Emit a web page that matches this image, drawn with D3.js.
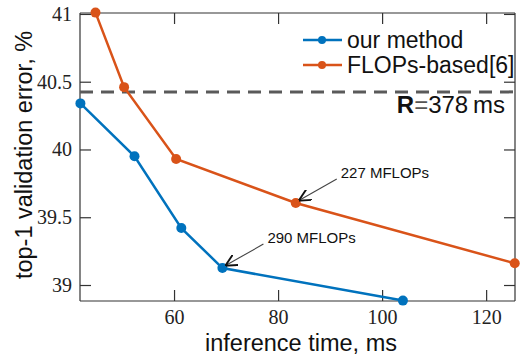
<!DOCTYPE html>
<html><head><meta charset="utf-8">
<script src="https://cdn.jsdelivr.net/npm/d3@7"></script>
<style>
html,body{margin:0;padding:0;background:#fff;}
svg{display:block;}
</style></head>
<body>
<svg id="c" width="522" height="359"></svg>
<script>
// ---- data ----
const ourTime = [42.0, 52.4, 61.4, 69.3, 104.0];
const ourErr  = [40.34, 39.95, 39.42, 39.125, 38.885];
const flopsTime = [44.9, 50.4, 60.4, 83.4, 125.5];
const flopsErr  = [41.01, 40.46, 39.93, 39.605, 39.16];
const xTicks = [60, 80, 100, 120];
const yTicks = [39, 39.5, 40, 40.5, 41];
const budgetErr = 40.425;
const seriesNames = ["our method", "FLOPs-based[6]"];
const annotations = [
  {label: "227 MFLOPs", series: 1, index: 3},
  {label: "290 MFLOPs", series: 0, index: 3}
];

const colors = ["#0072BD", "#D95319"];
const svg = d3.select("#c");
const L = 80, R = 515, T = 13, B = 301;
const x = d3.scaleLinear().domain([41.92, 125.55]).range([L, R]);
const y = d3.scaleLinear().domain([38.882, 41.007]).range([B, T]);
const axisColor = "#333";
const tickFont = "'Liberation Serif', 'Times New Roman', serif";
const sansFont = "'Liberation Sans', Arial, Helvetica, sans-serif";

// axes (inward ticks)
const tl = 11;
const gB = svg.append("g").attr("transform", `translate(0,${B})`)
  .call(d3.axisBottom(x).tickValues(xTicks).tickSize(-tl).tickPadding(9).tickFormat(d3.format("d")));
const gT = svg.append("g").attr("transform", `translate(0,${T})`)
  .call(d3.axisTop(x).tickValues(xTicks).tickSize(-tl).tickFormat(""));
const gL = svg.append("g").attr("transform", `translate(${L},0)`)
  .call(d3.axisLeft(y).tickValues(yTicks).tickSize(-tl).tickPadding(8).tickFormat(d => d3.format("")(d)));
const gR = svg.append("g").attr("transform", `translate(${R},0)`)
  .call(d3.axisRight(y).tickValues(yTicks).tickSize(-tl).tickFormat(""));
[gB, gT, gL, gR].forEach(g => {
  g.select(".domain").attr("stroke", axisColor).attr("stroke-width", 1.2);
  g.selectAll(".tick line").attr("stroke", axisColor).attr("stroke-width", 1.2);
  g.selectAll(".tick text").attr("fill", "#222").style("font-family", tickFont).style("font-size", "20px");
});
gB.selectAll(".domain").attr("d", `M${L},0H${R}`);
gT.selectAll(".domain").attr("d", `M${L},0H${R}`);
gL.selectAll(".domain").attr("d", `M0,${B}V${T}`);
gR.selectAll(".domain").attr("d", `M0,${B}V${T}`);

// budget dashed line
svg.append("line")
  .attr("x1", x(x.domain()[0])).attr("x2", x(x.domain()[1]))
  .attr("y1", y(budgetErr)).attr("y2", y(budgetErr))
  .attr("stroke", "#5a5a5a").attr("stroke-width", 3)
  .attr("stroke-dasharray", "13,8");

const rt = svg.append("text").attr("x", 505).attr("y", 113)
  .attr("text-anchor", "end").style("font-family", sansFont).style("font-size", "24px").attr("fill", "#111");
rt.append("tspan").style("font-weight", "bold").text("R");
rt.append("tspan").attr("fill", "#555").text("=");
rt.append("tspan").text("378\u2009ms");

// series
const series = [
  {t: ourTime, e: ourErr},
  {t: flopsTime, e: flopsErr}
];
const line = d3.line().x(d => x(d[0])).y(d => y(d[1]));
series.forEach((s, i) => {
  const pts = s.t.map((t, k) => [t, s.e[k]]);
  svg.append("path").datum(pts).attr("d", line)
    .attr("fill", "none").attr("stroke", colors[i]).attr("stroke-width", 2.5);
  svg.append("g").selectAll("circle").data(pts).join("circle")
    .attr("cx", d => x(d[0])).attr("cy", d => y(d[1])).attr("r", 5)
    .attr("fill", colors[i]);
});

// annotations with arrows
const defs = svg.append("defs");
defs.append("marker").attr("id", "ah").attr("viewBox", "0 0 10 10")
  .attr("refX", 9).attr("refY", 5).attr("markerWidth", 12).attr("markerHeight", 12)
  .attr("markerUnits", "userSpaceOnUse").attr("orient", "auto")
  .append("path").attr("d", "M0,0 L10,5 L0,10").attr("fill", "none").attr("stroke", "#111").attr("stroke-width", 1.6);
annotations.forEach(a => {
  const s = series[a.series];
  const px = x(s.t[a.index]), py = y(s.e[a.index]);
  svg.append("line")
    .attr("x1", px + 41).attr("y1", py - 24)
    .attr("x2", px + 4).attr("y2", py - 3)
    .attr("stroke", "#444").attr("stroke-width", 1.1)
    .attr("marker-end", "url(#ah)");
  svg.append("text").attr("x", px + 45).attr("y", py - 25)
    .style("font-family", sansFont).style("font-size", "15px").attr("fill", "#111")
    .text(a.label);
});

// legend
const lg = svg.append("g");
seriesNames.forEach((n, i) => {
  const ly = 40 + i * 25;
  lg.append("line").attr("x1", 303).attr("x2", 342).attr("y1", ly).attr("y2", ly)
    .attr("stroke", colors[i]).attr("stroke-width", 2.5);
  lg.append("circle").attr("cx", 322).attr("cy", ly).attr("r", 4).attr("fill", colors[i]);
  lg.append("text").attr("x", 347).attr("y", ly + 8)
    .style("font-family", sansFont).style("font-size", "23px").attr("fill", "#111").text(n);
});

// axis titles
svg.append("text").attr("x", 301).attr("y", 351).attr("text-anchor", "middle")
  .style("font-family", sansFont).style("font-size", "23.5px").attr("fill", "#111")
  .text("inference time, ms");
svg.append("text").attr("transform", "translate(32,155) rotate(-90)").attr("text-anchor", "middle")
  .style("font-family", sansFont).style("font-size", "23.5px").attr("fill", "#111")
  .text("top-1 validation error, %");
</script>
</body></html>
